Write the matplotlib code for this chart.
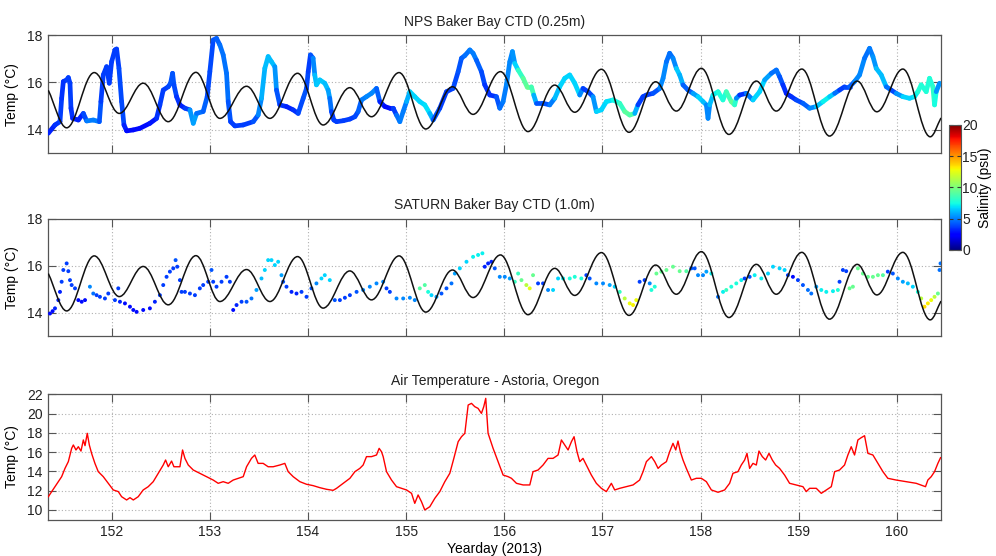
import numpy as np
import matplotlib
matplotlib.use("Agg")
import matplotlib.pyplot as plt
from matplotlib.collections import LineCollection
from matplotlib.path import Path
from matplotlib.patches import PathPatch
from matplotlib.colors import Normalize
from matplotlib.cm import ScalarMappable

plt.rcParams['font.family'] = ['Liberation Sans', 'DejaVu Sans']

# ---------------------------------------------------------------------------
# NPS Baker Bay CTD (0.25 m): yearday, temperature (degC), salinity (psu)
nps_day = [
    151.354, 151.422, 151.473, 151.490, 151.507, 151.541, 151.558, 151.575, 151.585, 151.602,
    151.660, 151.711, 151.745, 151.813, 151.874, 151.890, 151.914, 151.948, 151.975, 151.999,
    152.033, 152.050, 152.074, 152.101, 152.125, 152.152, 152.220, 152.288, 152.389, 152.457,
    152.491, 152.525, 152.576, 152.600, 152.620, 152.634, 152.661, 152.695, 152.746, 152.797,
    152.831, 152.865, 152.932, 152.973, 153.000, 153.034, 153.068, 153.102, 153.136, 153.170,
    153.187, 153.211, 153.255, 153.340, 153.442, 153.492, 153.526, 153.560, 153.594, 153.628,
    153.662, 153.679, 153.713, 153.781, 153.849, 153.900, 153.951, 153.985, 154.002, 154.025,
    154.052, 154.069, 154.086, 154.120, 154.171, 154.205, 154.222, 154.239, 154.263, 154.291,
    154.359, 154.427, 154.478, 154.511, 154.545, 154.596, 154.647, 154.698, 154.732, 154.783,
    154.834, 154.868, 154.902, 154.936, 154.970, 155.004, 155.038, 155.088, 155.139, 155.190,
    155.241, 155.275, 155.343, 155.411, 155.479, 155.530, 155.564, 155.598, 155.649, 155.682,
    155.716, 155.767, 155.801, 155.852, 155.920, 155.954, 155.988, 156.022, 156.056, 156.083,
    156.107, 156.141, 156.192, 156.232, 156.276, 156.300, 156.327, 156.395, 156.463, 156.514,
    156.565, 156.616, 156.667, 156.718, 156.769, 156.802, 156.854, 156.904, 156.938, 156.989,
    157.040, 157.108, 157.176, 157.227, 157.278, 157.329, 157.362, 157.413, 157.448, 157.516,
    157.584, 157.618, 157.652, 157.685, 157.719, 157.753, 157.787, 157.821, 157.872, 157.923,
    157.974, 158.025, 158.059, 158.076, 158.093, 158.127, 158.178, 158.228, 158.262, 158.313,
    158.347, 158.364, 158.398, 158.466, 158.534, 158.602, 158.653, 158.721, 158.772, 158.805,
    158.839, 158.873, 158.924, 158.975, 159.043, 159.111, 159.179, 159.247, 159.315, 159.366,
    159.416, 159.467, 159.518, 159.569, 159.620, 159.671, 159.722, 159.756, 159.790, 159.841,
    159.892, 159.942, 159.993, 160.061, 160.129, 160.180, 160.214, 160.248, 160.299, 160.333,
    160.367, 160.384, 160.401, 160.435,
]
nps_temp = [
    13.85, 14.20, 14.34, 15.33, 16.04, 16.11, 16.21, 15.97, 14.91, 14.48,
    14.41, 14.69, 14.37, 14.41, 14.34, 15.19, 16.32, 16.67, 15.97, 16.88,
    17.38, 17.42, 16.60, 15.19, 14.20, 13.95, 13.99, 14.06, 14.27, 14.48,
    15.05, 15.68, 15.82, 15.97, 16.39, 15.90, 15.40, 15.05, 14.91, 14.84,
    14.27, 14.69, 14.77, 15.40, 16.46, 17.80, 17.87, 17.59, 17.17, 16.39,
    15.19, 14.34, 14.16, 14.20, 14.34, 14.62, 15.33, 16.60, 17.10, 16.88,
    16.67, 15.68, 15.05, 14.98, 14.84, 14.69, 15.33, 15.75, 16.46, 17.17,
    17.03, 16.32, 15.90, 16.11, 15.97, 15.68, 15.33, 14.77, 14.41, 14.34,
    14.38, 14.45, 14.55, 14.77, 15.26, 15.40, 15.54, 15.75, 15.19, 14.98,
    14.91, 14.91, 14.62, 14.34, 14.77, 15.19, 15.61, 15.40, 15.19, 15.05,
    14.69, 14.41, 14.91, 15.61, 15.75, 16.46, 17.03, 17.14, 17.38, 17.24,
    16.95, 16.46, 15.90, 15.47, 15.40, 14.91, 15.19, 15.90, 16.88, 17.31,
    16.81, 16.53, 16.18, 15.82, 15.82, 15.47, 15.12, 15.12, 15.05, 15.33,
    15.82, 16.18, 16.32, 15.97, 15.47, 15.75, 15.61, 15.40, 14.77, 14.84,
    15.19, 15.26, 15.12, 14.77, 14.62, 14.69, 15.05, 15.40, 15.47, 15.54,
    15.75, 16.18, 16.88, 17.24, 17.03, 16.60, 16.32, 15.90, 15.68, 15.54,
    15.40, 15.19, 15.05, 14.48, 15.05, 15.47, 15.61, 15.26, 15.61, 15.19,
    15.05, 15.33, 15.47, 15.54, 15.26, 15.61, 16.11, 16.39, 16.53, 16.25,
    15.90, 15.54, 15.40, 15.26, 15.12, 14.91, 14.98, 15.19, 15.40, 15.54,
    15.68, 15.82, 15.82, 16.04, 16.32, 17.03, 17.45, 17.10, 16.60, 16.32,
    15.82, 15.68, 15.54, 15.40, 15.33, 15.40, 15.61, 15.90, 15.61, 16.18,
    15.82, 15.05, 15.61, 15.97,
]
nps_sal = [
    3.2, 3.2, 3.7, 3.7, 3.2, 3.7, 3.7, 3.7, 3.7, 3.2,
    3.2, 3.2, 4.7, 5.2, 4.7, 3.7, 3.7, 3.7, 3.7, 3.7,
    3.7, 3.7, 3.7, 4.2, 3.7, 2.7, 2.7, 2.7, 2.7, 3.2,
    3.7, 3.7, 3.7, 4.2, 4.2, 4.2, 3.7, 3.2, 3.2, 4.2,
    6.7, 4.7, 4.7, 4.2, 3.7, 4.2, 4.2, 4.7, 4.7, 4.7,
    4.7, 3.7, 3.7, 3.7, 3.7, 4.7, 5.7, 6.2, 6.2, 6.2,
    6.2, 4.7, 3.7, 3.2, 3.2, 3.7, 4.2, 4.2, 3.7, 3.7,
    4.7, 5.7, 6.7, 6.2, 6.7, 5.7, 5.7, 3.7, 3.7, 3.7,
    3.7, 3.7, 3.7, 4.2, 4.7, 5.2, 5.2, 5.2, 3.7, 2.7,
    2.7, 3.2, 4.2, 5.2, 4.7, 5.2, 6.7, 6.7, 6.7, 6.7,
    7.2, 4.7, 3.7, 3.7, 3.7, 4.2, 4.2, 4.7, 4.7, 5.2,
    4.7, 4.2, 3.7, 3.2, 3.7, 4.7, 4.7, 5.2, 5.2, 5.2,
    5.7, 7.7, 8.8, 9.5, 9.5, 7.7, 4.2, 4.2, 4.2, 5.7,
    6.7, 6.7, 6.7, 6.7, 6.7, 3.7, 3.7, 4.2, 6.7, 6.7,
    6.7, 7.2, 7.7, 8.8, 9.5, 8.3, 3.7, 3.7, 3.7, 3.7,
    4.7, 5.7, 4.7, 4.7, 4.7, 5.7, 7.2, 4.7, 4.2, 4.7,
    6.7, 6.7, 5.7, 4.7, 5.7, 6.7, 7.7, 7.7, 7.8, 9.3,
    9.3, 6.7, 3.7, 3.2, 6.7, 6.7, 6.7, 4.7, 4.7, 4.7,
    3.7, 3.2, 3.2, 3.7, 4.2, 4.7, 5.7, 7.2, 7.2, 5.7,
    3.7, 3.7, 4.2, 4.7, 5.7, 4.7, 4.7, 5.2, 5.7, 6.7,
    5.7, 3.7, 4.2, 6.7, 6.7, 6.7, 7.7, 7.8, 7.8, 7.8,
    7.8, 8.3, 6.7, 4.2,
]

# SATURN Baker Bay CTD (1.0 m): yearday, temperature (degC), salinity (psu)
sat_day = [
    151.371, 151.398, 151.422, 151.456, 151.473, 151.490, 151.507, 151.541, 151.558, 151.575,
    151.592, 151.626, 151.660, 151.694, 151.728, 151.778, 151.812, 151.846, 151.880, 151.931,
    151.965, 152.033, 152.067, 152.084, 152.135, 152.186, 152.220, 152.254, 152.321, 152.389,
    152.440, 152.491, 152.525, 152.559, 152.593, 152.627, 152.651, 152.668, 152.695, 152.712,
    152.746, 152.797, 152.848, 152.898, 152.932, 152.983, 153.017, 153.034, 153.068, 153.119,
    153.170, 153.204, 153.238, 153.272, 153.323, 153.374, 153.424, 153.475, 153.526, 153.560,
    153.594, 153.628, 153.662, 153.696, 153.730, 153.747, 153.781, 153.832, 153.883, 153.934,
    153.985, 154.035, 154.086, 154.137, 154.171, 154.222, 154.273, 154.325, 154.376, 154.427,
    154.495, 154.562, 154.630, 154.698, 154.766, 154.800, 154.834, 154.902, 154.970, 155.038,
    155.088, 155.139, 155.190, 155.224, 155.258, 155.309, 155.360, 155.411, 155.462, 155.496,
    155.547, 155.615, 155.682, 155.733, 155.777, 155.801, 155.835, 155.869, 155.903, 155.954,
    156.005, 156.056, 156.107, 156.141, 156.175, 156.225, 156.259, 156.293, 156.344, 156.395,
    156.446, 156.497, 156.548, 156.599, 156.667, 156.718, 156.785, 156.836, 156.870, 156.938,
    157.006, 157.074, 157.125, 157.176, 157.227, 157.278, 157.312, 157.345, 157.379, 157.430,
    157.482, 157.499, 157.533, 157.550, 157.601, 157.652, 157.719, 157.787, 157.855, 157.906,
    157.940, 157.974, 158.025, 158.059, 158.110, 158.178, 158.229, 158.262, 158.313, 158.364,
    158.415, 158.449, 158.500, 158.551, 158.619, 158.687, 158.738, 158.805, 158.856, 158.890,
    158.941, 158.992, 159.043, 159.094, 159.128, 159.179, 159.230, 159.281, 159.349, 159.399,
    159.416, 159.450, 159.484, 159.518, 159.552, 159.603, 159.654, 159.705, 159.756, 159.807,
    159.858, 159.908, 159.959, 160.010, 160.061, 160.112, 160.163, 160.214, 160.248, 160.282,
    160.316, 160.350, 160.384, 160.418, 160.435, 160.445,
]
sat_temp = [
    13.97, 14.07, 14.19, 14.54, 14.89, 15.32, 15.82, 16.10, 15.77, 15.39,
    15.18, 15.04, 14.54, 14.47, 14.54, 15.11, 14.82, 14.75, 14.68, 14.61,
    14.82, 14.54, 15.04, 14.47, 14.40, 14.26, 14.12, 14.04, 14.12, 14.19,
    14.47, 14.75, 15.18, 15.53, 15.75, 15.89, 16.24, 15.96, 15.39, 14.89,
    14.89, 14.82, 14.75, 15.04, 15.18, 15.32, 15.82, 15.32, 15.11, 15.32,
    15.53, 15.32, 14.12, 14.33, 14.47, 14.47, 14.61, 14.97, 15.46, 15.82,
    16.24, 16.24, 16.03, 16.17, 15.60, 15.32, 15.11, 14.89, 14.82, 14.89,
    14.68, 15.04, 15.25, 15.46, 15.60, 15.39, 14.54, 14.54, 14.64, 14.75,
    14.89, 14.97, 15.11, 15.25, 15.32, 15.04, 14.89, 14.61, 14.61, 14.64,
    14.54, 15.04, 15.18, 14.89, 14.75, 14.68, 14.82, 15.04, 15.25, 15.67,
    15.89, 16.17, 16.38, 16.46, 16.53, 15.96, 16.10, 16.17, 15.89, 15.53,
    15.53, 15.46, 15.32, 15.67, 15.39, 15.18, 15.04, 15.60, 15.25, 15.25,
    14.97, 14.97, 15.46, 15.46, 15.46, 15.53, 15.46, 15.60, 15.46, 15.25,
    15.25, 15.18, 15.11, 14.89, 14.61, 14.40, 14.33, 14.54, 15.32, 15.39,
    15.25, 14.97, 15.11, 15.67, 15.75, 15.82, 15.96, 15.77, 15.77, 15.89,
    15.89, 15.60, 15.60, 15.75, 15.67, 14.68, 14.89, 14.97, 15.11, 15.25,
    15.39, 15.46, 15.53, 15.60, 15.46, 15.67, 15.96, 15.89, 15.82, 15.60,
    15.53, 15.39, 15.18, 14.97, 14.82, 15.11, 14.97, 14.89, 14.92, 14.97,
    15.32, 15.82, 15.77, 15.04, 15.11, 15.89, 15.67, 15.53, 15.53, 15.60,
    15.60, 15.75, 15.67, 15.46, 15.32, 15.25, 15.11, 14.89, 14.61, 14.26,
    14.40, 14.54, 14.68, 14.82, 15.82, 16.10,
]
sat_sal = [
    2.7, 2.7, 3.2, 3.2, 3.2, 3.7, 3.7, 3.7, 3.7, 3.7,
    3.7, 3.7, 2.7, 2.7, 2.7, 5.2, 4.7, 3.7, 3.7, 3.7,
    3.7, 3.7, 3.7, 3.2, 2.7, 2.7, 2.7, 2.7, 2.7, 2.7,
    3.2, 3.7, 3.7, 3.7, 3.7, 3.7, 4.2, 3.7, 3.7, 3.7,
    3.7, 3.7, 3.7, 3.7, 3.7, 3.7, 4.2, 3.7, 3.7, 3.7,
    3.7, 3.7, 2.7, 3.2, 3.7, 4.2, 4.7, 5.7, 6.2, 6.7,
    6.7, 6.7, 6.7, 6.7, 5.7, 4.2, 3.7, 3.2, 3.2, 3.7,
    3.7, 4.2, 5.2, 6.7, 6.7, 6.7, 4.2, 3.7, 3.7, 3.7,
    4.2, 5.2, 5.2, 5.2, 5.2, 3.7, 3.7, 5.2, 5.2, 5.2,
    5.2, 9.0, 9.0, 7.7, 6.7, 5.7, 4.2, 4.2, 4.7, 5.7,
    6.7, 6.7, 7.2, 7.2, 7.2, 3.2, 3.2, 3.2, 4.2, 5.2,
    5.2, 5.7, 8.3, 8.3, 9.5, 11.5, 12.5, 9.5, 3.7, 3.7,
    5.2, 6.7, 6.7, 7.2, 7.7, 7.8, 7.7, 3.7, 4.2, 5.2,
    5.2, 5.7, 6.7, 8.3, 11.5, 12.8, 13.0, 12.8, 3.7, 3.7,
    5.2, 7.8, 7.8, 9.5, 9.5, 9.5, 9.5, 9.5, 9.0, 4.2,
    4.2, 5.2, 5.2, 5.7, 7.2, 4.7, 7.2, 8.3, 7.7, 7.7,
    7.2, 3.7, 4.2, 7.2, 7.2, 6.7, 6.7, 6.7, 6.7, 3.7,
    2.7, 3.7, 4.2, 4.7, 4.7, 5.7, 7.2, 7.2, 7.2, 7.8,
    3.7, 3.7, 3.7, 9.5, 9.5, 9.5, 9.5, 9.5, 9.5, 9.5,
    9.0, 3.7, 4.2, 5.2, 5.7, 6.2, 6.7, 7.7, 11.5, 13.5,
    13.2, 12.8, 11.5, 9.5, 4.7, 4.7,
]

# Water temperature reference curve: turning points (yearday, degC),
# first and last entries are the plot-edge values
ref_day = [
    151.354, 151.541, 151.822, 152.077, 152.321, 152.576, 152.858, 153.102, 153.374, 153.612,
    153.894, 154.154, 154.426, 154.647, 154.928, 155.200, 155.472, 155.682, 155.961, 156.242,
    156.514, 156.718, 156.990, 157.271, 157.542, 157.753, 158.008, 158.289, 158.568, 158.771,
    159.032, 159.314, 159.596, 159.796, 160.061, 160.340, 160.450,
]
ref_temp = [
    15.67, 14.08, 16.42, 14.69, 15.97, 14.34, 16.43, 14.48, 15.84, 14.48,
    16.39, 14.20, 15.78, 14.55, 16.42, 14.03, 15.82, 14.65, 16.46, 13.92,
    15.89, 14.74, 16.56, 13.89, 16.03, 14.79, 16.60, 13.80, 16.06, 14.79,
    16.57, 13.73, 16.06, 14.76, 16.57, 13.70, 14.50,
]

# Air temperature, Astoria, Oregon
air_day = [
    151.354, 151.388, 151.422, 151.456, 151.490, 151.524, 151.558, 151.592, 151.609, 151.636,
    151.660, 151.687, 151.711, 151.728, 151.751, 151.772, 151.795, 151.829, 151.863, 151.914,
    151.965, 152.016, 152.067, 152.101, 152.152, 152.186, 152.220, 152.270, 152.321, 152.372,
    152.423, 152.474, 152.525, 152.549, 152.576, 152.610, 152.634, 152.695, 152.722, 152.746,
    152.780, 152.831, 152.898, 152.966, 153.034, 153.085, 153.136, 153.187, 153.238, 153.289,
    153.340, 153.374, 153.424, 153.458, 153.492, 153.543, 153.594, 153.645, 153.713, 153.764,
    153.798, 153.849, 153.917, 153.985, 154.052, 154.120, 154.188, 154.256, 154.291, 154.359,
    154.427, 154.478, 154.528, 154.562, 154.596, 154.647, 154.698, 154.725, 154.749, 154.766,
    154.800, 154.851, 154.902, 154.953, 155.004, 155.055, 155.088, 155.122, 155.156, 155.190,
    155.241, 155.292, 155.343, 155.394, 155.445, 155.486, 155.530, 155.564, 155.598, 155.632,
    155.666, 155.699, 155.733, 155.767, 155.791, 155.811, 155.835, 155.886, 155.937, 155.988,
    156.039, 156.073, 156.124, 156.192, 156.260, 156.293, 156.344, 156.395, 156.446, 156.497,
    156.548, 156.582, 156.616, 156.650, 156.684, 156.711, 156.741, 156.769, 156.802, 156.836,
    156.887, 156.938, 156.989, 157.040, 157.091, 157.125, 157.176, 157.244, 157.312, 157.379,
    157.414, 157.448, 157.499, 157.533, 157.567, 157.601, 157.652, 157.685, 157.719, 157.747,
    157.770, 157.794, 157.821, 157.855, 157.906, 157.957, 158.008, 158.059, 158.110, 158.178,
    158.245, 158.296, 158.330, 158.381, 158.415, 158.449, 158.473, 158.500, 158.534, 158.568,
    158.595, 158.629, 158.663, 158.697, 158.731, 158.765, 158.805, 158.856, 158.907, 158.975,
    159.043, 159.077, 159.111, 159.179, 159.230, 159.281, 159.332, 159.366, 159.416, 159.467,
    159.501, 159.535, 159.569, 159.603, 159.637, 159.671, 159.705, 159.756, 159.807, 159.858,
    159.908, 159.993, 160.095, 160.197, 160.292, 160.316, 160.350, 160.384, 160.418, 160.445,
]
air_temp = [
    11.37, 11.90, 12.41, 12.93, 13.45, 14.31, 15.01, 16.39, 16.74, 16.22,
    16.56, 16.11, 17.26, 16.67, 17.95, 16.74, 15.87, 14.83, 13.97, 13.45,
    12.76, 12.07, 11.90, 11.37, 11.03, 11.27, 11.03, 11.37, 12.07, 12.41,
    12.93, 13.80, 14.66, 15.18, 14.48, 15.07, 14.48, 14.48, 16.22, 15.35,
    14.66, 14.14, 13.80, 13.45, 13.10, 12.76, 12.93, 12.76, 13.10, 13.28,
    13.45, 14.48, 15.35, 15.70, 14.83, 14.83, 14.48, 14.48, 14.66, 14.83,
    13.97, 13.45, 12.93, 12.66, 12.52, 12.31, 12.14, 12.03, 12.24, 12.76,
    13.28, 13.97, 14.31, 14.66, 15.53, 15.53, 15.70, 16.39, 16.04, 15.53,
    13.97, 13.10, 12.41, 12.24, 12.07, 11.72, 10.68, 11.55, 10.86, 9.99,
    10.33, 11.20, 11.90, 12.93, 13.80, 15.35, 17.08, 17.60, 17.95, 20.89,
    21.06, 20.72, 20.54, 20.02, 20.72, 21.58, 17.95, 16.39, 15.01, 13.62,
    13.45, 13.28, 12.76, 12.59, 12.59, 13.97, 14.14, 14.66, 15.35, 15.35,
    15.70, 17.26, 16.74, 16.22, 17.08, 17.60, 16.04, 15.01, 15.35, 14.66,
    13.62, 12.76, 12.24, 11.90, 12.76, 12.07, 12.24, 12.41, 12.59, 13.10,
    13.97, 15.01, 15.53, 15.01, 14.31, 14.66, 15.01, 16.04, 16.91, 16.22,
    17.15, 16.04, 15.18, 14.31, 13.10, 13.28, 13.28, 12.93, 12.07, 11.83,
    12.07, 12.76, 13.80, 13.97, 14.66, 15.18, 15.87, 14.31, 14.83, 14.66,
    16.11, 15.53, 15.18, 15.87, 15.18, 14.66, 14.31, 13.62, 12.76, 12.59,
    12.41, 11.90, 12.24, 12.24, 11.72, 12.07, 12.41, 13.97, 14.14, 14.66,
    15.70, 16.56, 15.70, 17.26, 17.50, 17.70, 15.87, 15.70, 14.83, 13.97,
    13.28, 13.10, 12.93, 12.76, 12.41, 13.10, 13.45, 13.97, 14.83, 15.42,
]

x_ticks = [152, 153, 154, 155, 156, 157, 158, 159, 160]
water_yticks = [14, 16, 18]
air_yticks = [10, 12, 14, 16, 18, 20, 22]
sal_ticks = [0, 5, 10, 15, 20]
x_range = (151.354, 160.45)

# ---------------------------------------------------------------------------
cmap = plt.get_cmap('jet')
norm = Normalize(vmin=0, vmax=20)
spine_col = '#555555'

fig = plt.figure(figsize=(9.96, 5.56), dpi=100)
ax1 = fig.add_axes([0.0485, 0.7243, 0.8963, 0.2122])
ax2 = fig.add_axes([0.0485, 0.3951, 0.8963, 0.2115])
ax3 = fig.add_axes([0.0485, 0.0656, 0.8963, 0.2252])
cax = fig.add_axes([0.9528, 0.5504, 0.0120, 0.2248])


def style_axes(ax, yticks, ylim, show_xlabels):
    ax.set_xlim(*x_range)
    ax.set_ylim(*ylim)
    ax.set_xticks(x_ticks)
    ax.set_yticks(yticks)
    if not show_xlabels:
        ax.set_xticklabels([])
    ax.grid(True, color='#b0b0b0', linestyle=(0, (1, 2)), linewidth=0.8)
    ax.set_axisbelow(True)
    ax.tick_params(direction='in', length=6, width=0.8, top=True, right=True,
                   labelsize=10, colors='#222222', color=spine_col, pad=4)
    for s in ax.spines.values():
        s.set_color(spine_col)
        s.set_linewidth(0.9)
    ax.set_ylabel('Temp (\u00b0C)', fontsize=10, labelpad=6)


def reference_curve(ax, days, temps):
    # smooth curve through the turning points, flat tangent at each extremum
    k = 0.3634
    verts = [(days[0], temps[0])]
    codes = [Path.MOVETO]
    n = len(days)
    for i in range(n - 1):
        x0, y0, x1, y1 = days[i], temps[i], days[i + 1], temps[i + 1]
        dx, dy = x1 - x0, y1 - y0
        c1 = (x0 + k * dx, y0) if 0 < i else (x0 + dx / 3, y0 + dy / 3)
        c2 = (x1 - k * dx, y1) if i + 1 < n - 1 else (x1 - dx / 3, y1 - dy / 3)
        verts += [c1, c2, (x1, y1)]
        codes += [Path.CURVE4] * 3
    patch = PathPatch(Path(verts, codes), facecolor='none', edgecolor='#111111',
                      linewidth=1.1, zorder=4)
    ax.add_patch(patch)


# top panel: continuous coloured trace
pts = np.column_stack([nps_day, nps_temp])
segs = np.stack([pts[:-1], pts[1:]], axis=1)
sal = np.asarray(nps_sal)
lc = LineCollection(segs, cmap=cmap, norm=norm, linewidths=3.4,
                    capstyle='round', joinstyle='round', zorder=3)
lc.set_array(0.5 * (sal[:-1] + sal[1:]))
ax1.add_collection(lc)
reference_curve(ax1, ref_day, ref_temp)
style_axes(ax1, water_yticks, (13, 18), False)
ax1.set_title('NPS Baker Bay CTD (0.25m)', fontsize=10, pad=7, color='#222222')

# middle panel: scattered samples
ax2.scatter(sat_day, sat_temp, c=sat_sal, cmap=cmap, norm=norm, s=8,
            edgecolors='none', zorder=3)
reference_curve(ax2, ref_day, ref_temp)
style_axes(ax2, water_yticks, (13, 18), False)
ax2.set_title('SATURN Baker Bay CTD (1.0m)', fontsize=10, pad=7, color='#222222')

# bottom panel: air temperature
ax3.plot(air_day, air_temp, color='red', linewidth=1.0, zorder=3)
style_axes(ax3, air_yticks, (9, 22), True)
ax3.set_title('Air Temperature - Astoria, Oregon', fontsize=10, pad=7, color='#222222')
ax3.set_xlabel('Yearday (2013)', fontsize=10, labelpad=2)

# salinity colour bar
cb = fig.colorbar(ScalarMappable(norm=norm, cmap=cmap), cax=cax, ticks=sal_ticks)
cb.outline.set_edgecolor(spine_col)
cb.outline.set_linewidth(0.8)
cax.tick_params(direction='in', length=3, width=0.8, left=True, right=True,
                labelsize=10, colors='#222222', color='#333333', pad=1)
cb.set_label('Salinity (psu)', fontsize=10, labelpad=0)

fig.savefig('out.png', dpi=100)
